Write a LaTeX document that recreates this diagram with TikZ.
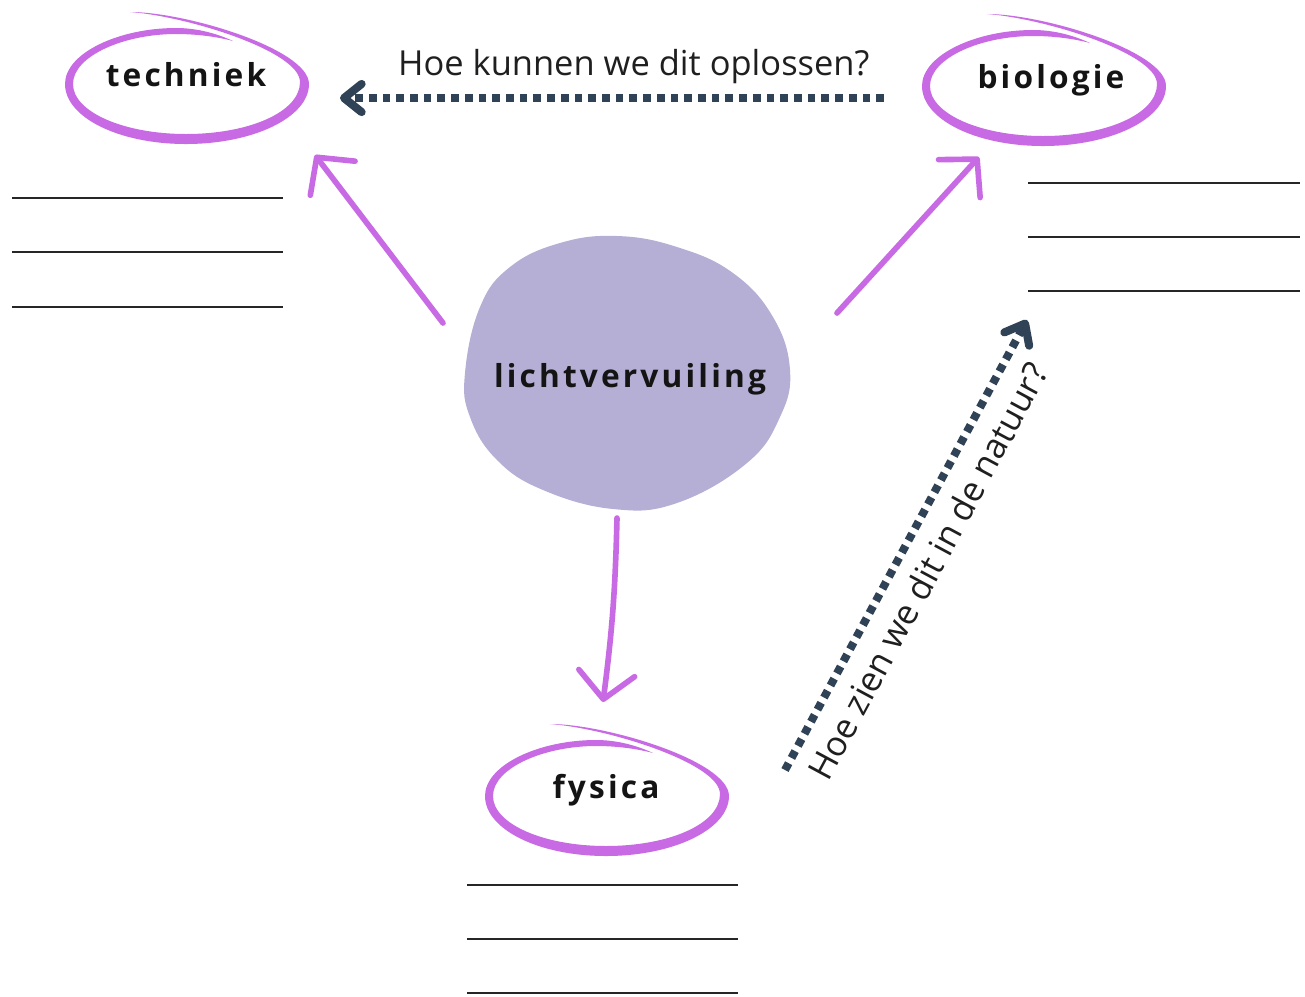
\documentclass[tikz,border=0pt]{standalone}
\usepackage{fontspec}
\setmainfont{Open Sans}
\newfontfamily\labelfont[LetterSpace=10]{Open Sans}
\usetikzlibrary{positioning, arrows.meta, calc}

\definecolor{ringPurple}{RGB}{200,106,228}
\definecolor{blobLilac}{RGB}{181,174,213}
\definecolor{slate}{RGB}{47,66,86}

\begin{document}
\begin{tikzpicture}[
  x=0.01cm, y=0.01cm,
  font=\fontsize{9.8}{12}\selectfont
]
% -------------------- Styles --------------------
\tikzset{
  topic/.style={
    font=\fontsize{9}{11}\selectfont\labelfont\bfseries,
    text=black!92, anchor=base, inner sep=0pt
  },
  question/.style={
    text=black!88, inner sep=2pt
  },
  pen/.style={
    ringPurple, line width=1.6pt, line cap=round,
    -{Straight Barb[length=7.5pt, width=16pt, round]}
  },
  hint/.style={
    slate, line width=2.3pt, dash pattern=on 2.2pt off 1.7pt,
    -{Straight Barb[length=5pt, width=8pt, round]}
  },
  blank/.style={line width=0.8pt, black!85},
  ring/.pic={
    % outer edge, from the tail round to the inner top arc
    \fill[ringPurple] (-56,72) .. controls (0,72) and (123,35) .. (123,0)
      .. controls (123,-33) and (68,-60) .. (0,-60)
      .. controls (-68,-60) and (-121,-33) .. (-121,0)
      .. controls (-121,31) and (-67,56) .. (-10,56)
      .. controls (12,56) and (32,50) .. (47,43)
    % inner edge, back again
      .. controls (32,47) and (12,50) .. (-10,50)
      .. controls (-62,50) and (-113,28) .. (-113,0)
      .. controls (-113,-28) and (-62,-50) .. (0,-50)
      .. controls (63,-50) and (114,-28) .. (114,2)
      .. controls (114,33) and (0,68) .. cycle;
  }
}

\useasboundingbox (0,0) rectangle (1305,-996);

% -------------------- Centre blob --------------------
\fill[blobLilac] plot[smooth cycle, tension=0.7] coordinates {
  (617,-236) (677,-247) (733,-273) (773,-317) (790,-370) (780,-417)
  (747,-463) (677,-503) (613,-509) (543,-490) (497,-460) (470,-417)
  (465,-373) (480,-307) (510,-267) (560,-243)};
\node[topic] (pol) at (630,-387) {lichtvervuiling};

% -------------------- Three topics --------------------
\pic at (186,-84) {ring};
\node[topic] (tech) at (186,-86) {techniek};

\pic at (1043,-86) {ring};
\node[topic] (bio) at (1051,-88) {biologie};

\pic at (606,-796) {ring};
\node[topic] (fys) at (606,-798) {fysica};

% -------------------- Arrows --------------------
\draw[pen] ($(pol.base)+(-187,64)$) -- ($(tech.base)+(129,-69)$);
\draw[pen] ($(pol.base)+(207,74)$) -- ($(bio.base)+(-72,-69)$);
\draw[pen] ($(pol.base)+(-13,-131)$) to[bend left=3] ($(fys.base)+(-3,96)$);

% Questions between the topics
\draw[hint] ($(bio.base)+(-167,-10)$) -- ($(tech.base)+(154,-12)$)
  node[question, pos=0.46, above=1pt] {Hoe kunnen we dit oplossen?};
\draw[hint] ($(fys.base)+(179,28)$) -- ($(bio.base)+(-24,-232)$)
  node[question, pos=0.475, sloped, below=2pt] {Hoe zien we dit in de natuur?};

% -------------------- Answer lines --------------------
\foreach \y in {198,252,307} \draw[blank] (12,-\y) -- (283,-\y);
\foreach \y in {183,237,291} \draw[blank] (1028,-\y) -- (1300,-\y);
\foreach \y in {885,939,993} \draw[blank] (467,-\y) -- (738,-\y);

\end{tikzpicture}
\end{document}
